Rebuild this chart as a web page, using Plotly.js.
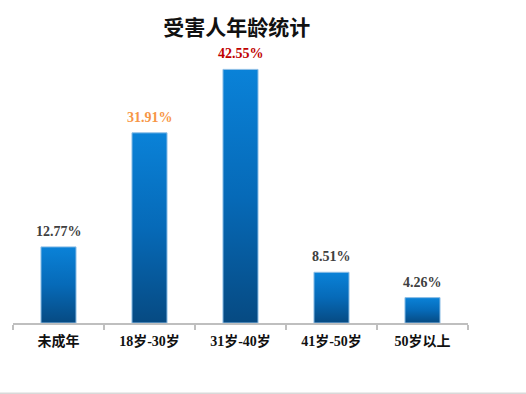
<!DOCTYPE html>
<html>
<head>
<meta charset="utf-8">
<script src="https://cdn.plot.ly/plotly-3.0.1.min.js"></script>
<style>
html,body{margin:0;padding:0;background:#fff;}
#chart{width:526px;height:394px;}
</style>
</head>
<body>
<div id="chart"></div>
<script>
var categories = ["未成年", "18岁-30岁", "31岁-40岁", "41岁-50岁", "50岁以上"];
var values = [12.77, 31.91, 42.55, 8.51, 4.26];
var labelColors = ["#404040", "#f79646", "#c00000", "#404040", "#404040"];
var chartTitle = "受害人年龄统计";

var trace = {
  type: "bar",
  x: categories,
  y: values,
  marker: {color: "#0567b5", line: {color: "#8fbfe6", width: 1}},
  hoverinfo: "none"
};

var annotations = categories.map(function(c, i){
  return {
    x: c, y: values[i], xref: "x", yref: "y",
    text: values[i].toFixed(2) + "%",
    showarrow: false, yanchor: "bottom", yshift: 6,
    font: {family: "Liberation Serif, Noto Sans CJK SC", size: 14, color: labelColors[i], weight: "bold"}
  };
});

var layout = {
  width: 526, height: 394,
  margin: {l: 13, r: 58, t: 25, b: 71},
  paper_bgcolor: "#ffffff",
  plot_bgcolor: "#ffffff",
  showlegend: false,
  bargap: 0.615,
  title: {
    text: chartTitle,
    x: 0.492, xref: "paper", xanchor: "center",
    y: 0.93, yref: "container", yanchor: "middle",
    font: {family: "Noto Sans CJK SC", size: 21, color: "#111111", weight: "bold"}
  },
  xaxis: {
    type: "category",
    showline: true, linecolor: "#bfbfbf", linewidth: 1.5,
    ticks: "outside", tickson: "boundaries", ticklen: 5, tickcolor: "#bfbfbf", tickwidth: 1.5,
    ticklabelstandoff: 5,
    showgrid: false, zeroline: false,
    tickfont: {family: "Liberation Serif, Noto Sans CJK SC", size: 14, color: "#111111", weight: "bold"}
  },
  yaxis: {
    range: [0, 50],
    visible: false, showgrid: false, zeroline: false
  },
  annotations: annotations,
  shapes: [{
    type: "line", xref: "paper", yref: "paper",
    x0: -0.03, x1: 1.13, y0: -0.236, y1: -0.236,
    line: {color: "#d9d9d9", width: 1.5}
  }]
};

Plotly.newPlot("chart", [trace], layout, {displayModeBar: false, staticPlot: true}).then(function(gd){
  var svg = gd.querySelector("svg.main-svg");
  var ns = "http://www.w3.org/2000/svg";
  var defs = svg.querySelector("defs") || svg.insertBefore(document.createElementNS(ns, "defs"), svg.firstChild);
  var g = document.createElementNS(ns, "linearGradient");
  g.setAttribute("id", "barGrad");
  g.setAttribute("x1", "0"); g.setAttribute("y1", "0");
  g.setAttribute("x2", "0"); g.setAttribute("y2", "1");
  [["0", "#0a82d8"], ["0.5", "#066ab8"], ["1", "#064a82"]].forEach(function(s){
    var st = document.createElementNS(ns, "stop");
    st.setAttribute("offset", s[0]);
    st.setAttribute("stop-color", s[1]);
    g.appendChild(st);
  });
  defs.appendChild(g);
  gd.querySelectorAll(".bars .point path").forEach(function(p){
    p.style.fill = "url(#barGrad)";
  });
});
</script>
</body>
</html>
